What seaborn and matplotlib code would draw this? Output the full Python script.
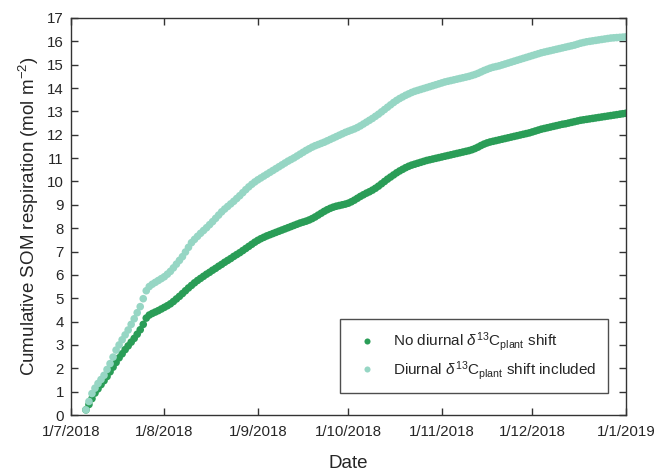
import pandas as pd
import matplotlib.pyplot as plt
import seaborn as sns

# daily values, 6 Jul 2018 - 1 Jan 2019
start_date = "2018-07-06"
n_days = 180

no_shift = [
    0.22, 0.45, 0.70, 0.94, 1.12, 1.30, 1.47, 1.65, 1.85, 2.05,
    2.25, 2.45, 2.62, 2.80, 2.96, 3.12, 3.28, 3.46, 3.65, 3.88,
    4.15, 4.28, 4.35, 4.41, 4.47, 4.54, 4.61, 4.68, 4.76, 4.86,
    4.97, 5.08, 5.20, 5.32, 5.44, 5.55, 5.66, 5.76, 5.85, 5.94,
    6.03, 6.11, 6.20, 6.28, 6.37, 6.45, 6.54, 6.62, 6.70, 6.79,
    6.87, 6.95, 7.04, 7.13, 7.22, 7.31, 7.40, 7.48, 7.55, 7.61,
    7.67, 7.72, 7.77, 7.82, 7.87, 7.92, 7.97, 8.02, 8.07, 8.12,
    8.17, 8.22, 8.26, 8.30, 8.35, 8.41, 8.48, 8.56, 8.64, 8.72,
    8.79, 8.85, 8.90, 8.94, 8.97, 9.00, 9.03, 9.07, 9.13, 9.20,
    9.28, 9.36, 9.43, 9.50, 9.56, 9.63, 9.71, 9.80, 9.90, 10.00,
    10.10, 10.19, 10.28, 10.37, 10.45, 10.52, 10.59, 10.65, 10.70, 10.74,
    10.78, 10.82, 10.86, 10.90, 10.93, 10.96, 10.99, 11.02, 11.05, 11.08,
    11.11, 11.14, 11.17, 11.20, 11.23, 11.26, 11.29, 11.32, 11.36, 11.41,
    11.47, 11.54, 11.60, 11.65, 11.69, 11.72, 11.75, 11.78, 11.81, 11.84,
    11.87, 11.90, 11.93, 11.96, 11.99, 12.02, 12.05, 12.08, 12.12, 12.16,
    12.20, 12.24, 12.27, 12.30, 12.33, 12.36, 12.39, 12.42, 12.45, 12.47,
    12.50, 12.53, 12.56, 12.59, 12.62, 12.64, 12.66, 12.68, 12.70, 12.72,
    12.74, 12.76, 12.78, 12.80, 12.82, 12.84, 12.86, 12.88, 12.90, 12.92,
]

with_shift = [
    0.22, 0.58, 0.92, 1.15, 1.35, 1.52, 1.70, 1.95, 2.20, 2.48,
    2.78, 3.00, 3.22, 3.43, 3.64, 3.88, 4.12, 4.38, 4.64, 4.98,
    5.32, 5.50, 5.60, 5.68, 5.76, 5.84, 5.92, 6.03, 6.15, 6.30,
    6.46, 6.62, 6.78, 6.98, 7.18, 7.38, 7.52, 7.65, 7.78, 7.90,
    8.02, 8.15, 8.28, 8.42, 8.56, 8.70, 8.82, 8.93, 9.04, 9.15,
    9.27, 9.39, 9.52, 9.65, 9.77, 9.88, 9.98, 10.07, 10.15, 10.23,
    10.31, 10.39, 10.47, 10.55, 10.63, 10.71, 10.79, 10.87, 10.94, 11.01,
    11.09, 11.17, 11.25, 11.33, 11.40, 11.47, 11.53, 11.58, 11.63, 11.68,
    11.74, 11.80, 11.86, 11.92, 11.98, 12.04, 12.10, 12.15, 12.20, 12.25,
    12.31, 12.38, 12.46, 12.54, 12.62, 12.70, 12.79, 12.88, 12.98, 13.08,
    13.18, 13.28, 13.38, 13.47, 13.55, 13.62, 13.69, 13.75, 13.81, 13.86,
    13.90, 13.94, 13.98, 14.02, 14.06, 14.10, 14.14, 14.18, 14.22, 14.26,
    14.29, 14.32, 14.35, 14.38, 14.41, 14.44, 14.47, 14.50, 14.54, 14.58,
    14.63, 14.69, 14.75, 14.80, 14.85, 14.89, 14.92, 14.95, 14.99, 15.03,
    15.07, 15.11, 15.15, 15.19, 15.23, 15.27, 15.31, 15.35, 15.39, 15.43,
    15.47, 15.51, 15.54, 15.57, 15.60, 15.63, 15.66, 15.69, 15.72, 15.75,
    15.78, 15.81, 15.84, 15.88, 15.92, 15.95, 15.98, 16.00, 16.02, 16.04,
    16.06, 16.08, 16.10, 16.12, 16.14, 16.15, 16.16, 16.17, 16.18, 16.19,
]

series_names = [
    r"No diurnal $\delta^{13}$C$_{\rm plant}$ shift",
    r"Diurnal $\delta^{13}$C$_{\rm plant}$ shift included",
]
colors = ["#2a9d57", "#96d6c4"]

tick_dates = ["2018-07-01", "2018-08-01", "2018-09-01", "2018-10-01",
              "2018-11-01", "2018-12-01", "2019-01-01"]
tick_labels = ["1/7/2018", "1/8/2018", "1/9/2018", "1/10/2018",
               "1/11/2018", "1/12/2018", "1/1/2019"]

#%%
dates = pd.date_range(start_date, periods=n_days, freq="D")
df = pd.concat([
    pd.DataFrame({"Date": dates, "Resp": no_shift, "Case": series_names[0]}),
    pd.DataFrame({"Date": dates, "Resp": with_shift, "Case": series_names[1]}),
], ignore_index=True)

sns.set_style("ticks")
plt.rcParams["font.family"] = ["Liberation Sans", "DejaVu Sans"]
plt.rcParams["mathtext.fontset"] = "custom"
plt.rcParams["mathtext.rm"] = "Liberation Sans"
plt.rcParams["mathtext.it"] = "Liberation Sans:italic"

fig = plt.figure(figsize=(6.56, 4.73), dpi=100)
ax = fig.add_axes([0.108, 0.1226, 0.846, 0.8394])

sns.scatterplot(data=df, x="Date", y="Resp", hue="Case", hue_order=series_names,
                palette=colors, s=30, linewidth=0, ax=ax)

ax.set_xlim(pd.Timestamp("2018-07-01"), pd.Timestamp("2019-01-01"))
ax.set_ylim(0, 17)
ax.set_xticks(pd.to_datetime(tick_dates))
ax.set_xticklabels(tick_labels)
ax.set_yticks(range(0, 18))
ax.tick_params(direction="in", top=True, right=True, length=5, width=1,
               color="#333333", labelsize=10.8, pad=7)
ax.tick_params(axis="y", pad=5)
for sp in ax.spines.values():
    sp.set_color("#333333")
    sp.set_linewidth(1)

ax.set_xlabel("Date", fontsize=13.5, labelpad=12)
ax.set_ylabel("Cumulative SOM respiration (mol m$^{-2}$)", fontsize=13.5, labelpad=4)

leg = ax.legend(loc="lower right", bbox_to_anchor=(0.9676, 0.055), borderaxespad=0,
                fontsize=11, frameon=True, fancybox=False, markerscale=0.8,
                handletextpad=0.7, borderpad=0.75, labelspacing=0.35)
leg.get_frame().set_edgecolor("#222222")
leg.get_frame().set_linewidth(1)

plt.savefig("out.png", dpi=100)
